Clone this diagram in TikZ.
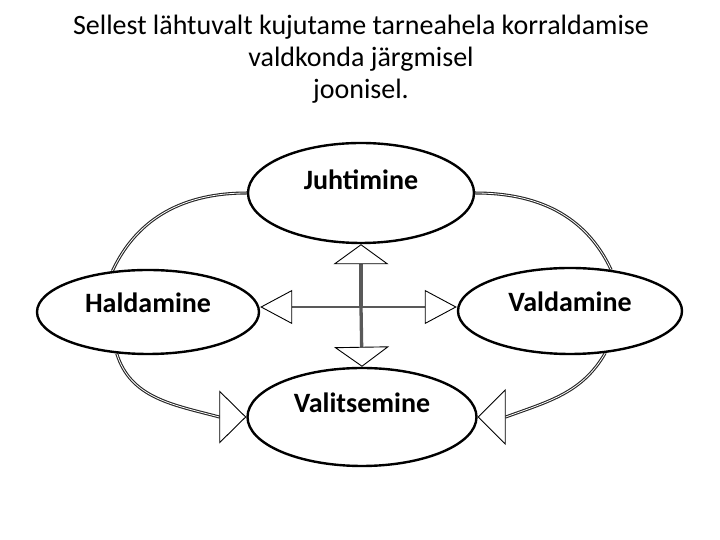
\documentclass[tikz,border=0pt]{standalone}
\usepackage{fontspec}
\setmainfont{Carlito}
\usetikzlibrary{arrows.meta,shapes.geometric,calc}
\begin{document}
\begin{tikzpicture}[x=1pt,y=1pt,
  proc/.style={ellipse, draw=black, line width=2.4pt, fill=white, inner sep=0pt,
    font=\fontsize{28}{32}\selectfont\bfseries},
  outer/.style={draw=black!85, line width=1.1pt, double=white, double distance=0.8pt},
  vline/.style={draw=black!65, line width=3.3pt},
  hline/.style={draw=black!65, line width=1.3pt},
]
\useasboundingbox (0,0) rectangle (720,540);
\node[anchor=base, align=center, font=\fontsize{28}{32}\selectfont, inner sep=0pt] (title) at (361,441)
  {Sellest lähtuvalt kujutame tarneahela korraldamise\\ valdkonda järgmisel\\ joonisel.};

% invisible placeholders for routing the outer curves under the ellipses
\node[proc, draw=none, fill=none, minimum width=226pt, minimum height=100pt, text height=18pt, text depth=24pt] (J) at (361,347) {};
\node[proc, draw=none, fill=none, minimum width=222pt, minimum height=84pt, text height=20pt, text depth=18pt] (H) at (148,228) {};
\node[proc, draw=none, fill=none, minimum width=224pt, minimum height=86pt, text height=20pt, text depth=18pt] (V) at (570,229) {};
\node[proc, draw=none, fill=none, minimum width=229pt, minimum height=98pt, text height=18pt, text depth=26pt] (S) at (362,123) {};

\draw[outer] (J.west) to[out=180, in=65] (H.131);
\draw[outer] (J.east) to[out=0, in=115] (V.45);
\draw[outer, -{Triangle[fill=white, color=black, line width=0.9pt, length=27pt, width=53pt]}]
  (H.233) to[out=287, in=165] ($(S.west)+(-27,0)$) -- (S.west);
\draw[outer, -{Triangle[fill=white, color=black, line width=0.9pt, length=28pt, width=56pt]}]
  (V.310) to[out=240, in=20] ($(S.east)+(28,0)$) -- (S.east);

% ellipses
\node[proc, minimum width=226pt, minimum height=100pt, text height=18pt, text depth=24pt] (Jt) at (J) {Juhtimine};
\node[proc, minimum width=222pt, minimum height=84pt, text height=20pt, text depth=18pt] (Ht) at (H) {Haldamine};
\node[proc, minimum width=224pt, minimum height=86pt, text height=20pt, text depth=18pt] (Vt) at (V) {Valdamine};
\node[proc, minimum width=229pt, minimum height=98pt, text height=18pt, text depth=26pt] (St) at (S) {Valitsemine};

% central cross
\coordinate (C) at (361,233);
\draw[vline, -{Triangle[fill=white, color=black, line width=0.9pt, length=20pt, width=55pt]}] (C) -- (Jt.south);
\draw[vline, -{Triangle[fill=white, color=black, line width=0.9pt, length=20pt, width=55pt]}] (C) -- (St.north);
\draw[hline, -{Triangle[fill=white, color=black, line width=0.9pt, length=32pt, width=34pt]}] (C) -- (C -| Ht.east);
\draw[hline, -{Triangle[fill=white, color=black, line width=0.9pt, length=32pt, width=34pt]}] (C) -- (C -| Vt.west);
\end{tikzpicture}
\end{document}
